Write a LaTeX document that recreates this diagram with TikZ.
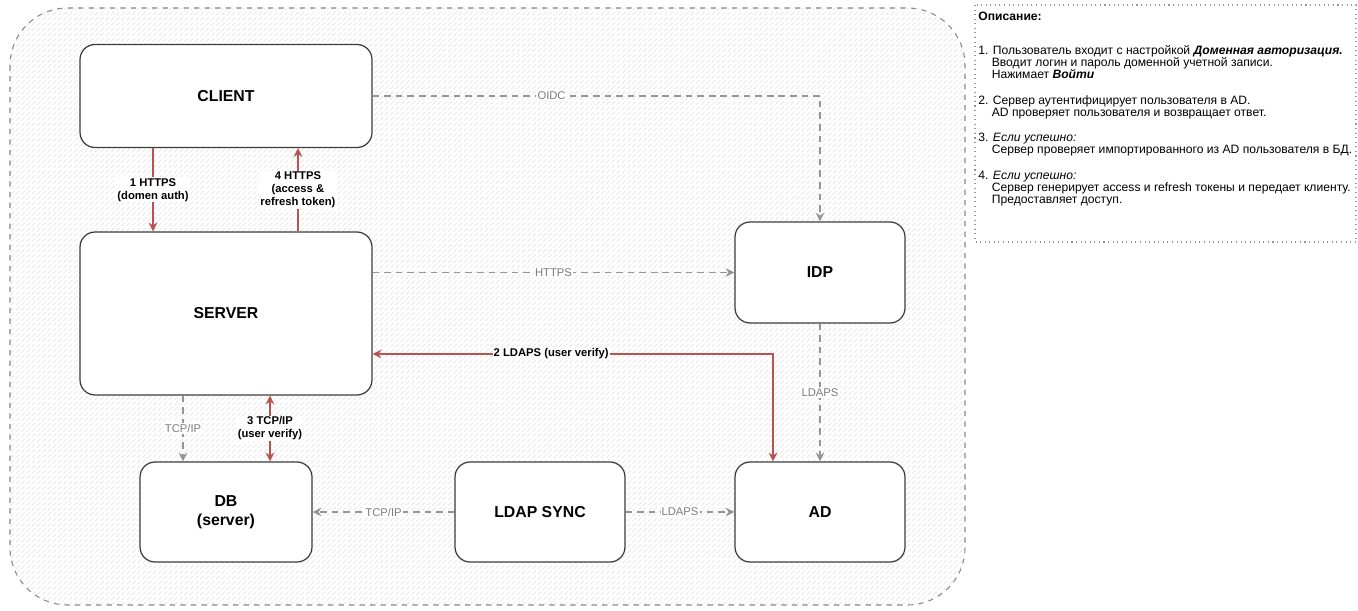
\documentclass[tikz,border=0pt]{standalone}
\usepackage{fontspec}
\setmainfont{Liberation Sans}
\usepackage{tikz}
\usetikzlibrary{arrows.meta,patterns}
\definecolor{redln}{RGB}{184,84,80}
\definecolor{grayln}{RGB}{150,150,150}
\definecolor{graytx}{RGB}{125,125,125}
\definecolor{boxln}{RGB}{60,60,60}
\tikzstyle{blk}=[draw=boxln, fill=white, rounded corners=0.3cm, line width=0.7pt,
font=\fontsize{9}{11}\selectfont\bfseries, align=center]
\tikzstyle{redarr}=[draw=redln, line width=0.9pt, -{Stealth[length=5pt,width=5pt]}]
\tikzstyle{grayarr}=[draw=grayln, line width=0.75pt, dash pattern=on 3.8pt off 2.8pt,
-{Stealth[length=5pt,width=5pt]}]
\tikzstyle{redlbl}=[fill=white, inner sep=0.6pt, align=center,
font=\fontsize{6.4}{7.4}\selectfont\bfseries, text=black]
\tikzstyle{graylbl}=[fill=white, inner sep=0.6pt, align=center,
font=\fontsize{6.4}{7.4}\selectfont, text=graytx]

\begin{document}
\begin{tikzpicture}[x=0.02cm,y=-0.02cm]
\useasboundingbox (0,0) rectangle (1358,611);
% background area
\draw[draw=grayln!90!black, dashed, line width=0.6pt, rounded corners=1.15cm,
 pattern=north east lines, pattern color=black!10] (10,8) rectangle (965,605);
% boxes
\node[blk, minimum width=5.84cm, minimum height=2.06cm] (client) at (226,96) {CLIENT};
\node[blk, minimum width=5.84cm, minimum height=3.26cm] (server) at (226,313.5) {SERVER};
\node[blk, minimum width=3.4cm, minimum height=2.02cm] (idp) at (820,272.5) {IDP};
\node[blk, minimum width=3.4cm, minimum height=2cm] (ad) at (820,512) {AD};
\node[blk, minimum width=3.44cm, minimum height=2cm] (db) at (226,512) {DB\\(server)};
\node[blk, minimum width=3.4cm, minimum height=2cm] (sync) at (540,512) {LDAP SYNC};
% red flows
\draw[redarr] ([xshift=-1.46cm]client.south) -- ([xshift=-1.46cm]server.north)
 node[redlbl, midway] {1 HTTPS\\(domen auth)};
\draw[redarr] ([xshift=1.44cm]server.north) -- ([xshift=1.44cm]client.south)
 node[redlbl, midway] {4 HTTPS\\(access \&\\refresh token)};
\draw[redarr, {Stealth[length=5pt,width=5pt]}-{Stealth[length=5pt,width=5pt]}]
 ([yshift=-0.81cm]server.east) -| ([xshift=-0.94cm]ad.north)
 node[redlbl, pos=0.223] {2 LDAPS (user verify)};
\draw[redarr, {Stealth[length=5pt,width=5pt]}-{Stealth[length=5pt,width=5pt]}]
 ([xshift=0.88cm]server.south) -- ([xshift=0.88cm]db.north)
 node[redlbl, midway] {3 TCP/IP\\(user verify)};
% gray flows
\draw[grayarr] (client.east) -| (idp.north) node[graylbl, pos=0.2] {OIDC};
\draw[grayarr] (idp.west -| server.east) -- (idp.west) node[graylbl, midway] {HTTPS};
\draw[grayarr] (idp.south) -- (ad.north) node[graylbl, midway] {LDAPS};
\draw[grayarr] ([xshift=-0.86cm]server.south) -- ([xshift=-0.86cm]db.north)
 node[graylbl, midway] {TCP/IP};
\draw[grayarr] (sync.west) -- (db.east) node[graylbl, midway] {TCP/IP};
\draw[grayarr] (sync.east) -- (ad.west) node[graylbl, midway] {LDAPS};
% description
\draw[draw=grayln, dotted, line width=0.6pt] (975,5) rectangle (1356,242);
\node[anchor=north west, align=left, inner sep=0pt,
 font=\fontsize{6.9}{6.8}\selectfont] (desc) at (978,12) {%
\textbf{Описание:}\\[12.3pt]
1. Пользователь входит с настройкой \textbf{\textit{Доменная авторизация.}}\\
\phantom{1.} Вводит логин и пароль доменной учетной записи.\\
\phantom{1.} Нажимает \textbf{\textit{Войти}}\\[7.9pt]
2. Сервер аутентифицирует пользователя в AD.\\
\phantom{2.} AD проверяет пользователя и возвращает ответ.\\[7.9pt]
3. \textit{Если успешно:}\\
\phantom{3.} Сервер проверяет импортированного из AD пользователя в БД.\\[7.9pt]
4. \textit{Если успешно:}\\
\phantom{4.} Сервер генерирует access и refresh токены и передает клиенту.\\
\phantom{4.} Предоставляет доступ.};
\end{tikzpicture}
\end{document}
